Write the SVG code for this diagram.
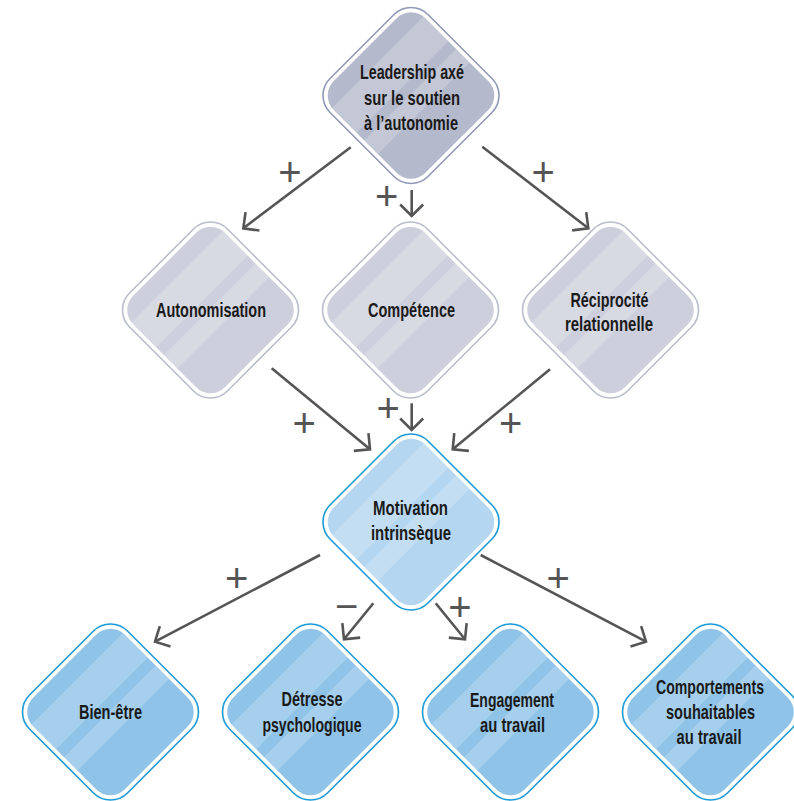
<svg xmlns="http://www.w3.org/2000/svg" width="794" height="801" viewBox="0 0 794 801">
<style>
.ob{fill:#fff;stroke-width:1.6}
.ot{stroke:#8f98b8}.it{fill:#b4b9cc}
.om{stroke:#b9bdcc}.im{fill:#cdd0dc}
.ov{stroke:#1b9ad6}.iv{fill:#b4d6f1}
.obl{stroke:#1b9ad6}.ibl{fill:#8fc4e8}
.st{fill:#fff;opacity:0.2}
.lbl{font-family:"Liberation Sans",Arial,sans-serif;font-weight:bold;font-size:21px;fill:#1a1a1a;text-anchor:middle}
.sg{font-family:"Liberation Sans",Arial,sans-serif;font-size:40px;fill:#555;text-anchor:middle}
.cn line{stroke:#555;stroke-width:2.6;fill:none;marker-end:url(#ah)}
</style>
<defs>
<clipPath id="dc"><rect x="-64.75" y="-64.75" width="129.5" height="129.5" rx="20"/></clipPath>
<marker id="ah" markerUnits="userSpaceOnUse" markerWidth="30" markerHeight="30" refX="0" refY="0" viewBox="-15 -15 30 30" orient="auto" overflow="visible">
<path d="M-11.5,-11.5 L0,0 L-11.5,11.5" fill="none" stroke="#555" stroke-width="2.6" stroke-linejoin="miter"/>
</marker>
</defs>

<g id="connectors" class="cn">
<line x1="350.7" y1="147.3" x2="243.3" y2="228.3"/>
<line x1="411.7" y1="190" x2="411.7" y2="216"/>
<line x1="482.3" y1="146.7" x2="588.3" y2="228.3"/>
<line x1="271.7" y1="368.3" x2="370" y2="449.3"/>
<line x1="411.7" y1="403.3" x2="411.7" y2="430"/>
<line x1="550" y1="369.3" x2="452.7" y2="449.3"/>
<line x1="320" y1="555" x2="155" y2="641.7"/>
<line x1="373.3" y1="603.3" x2="344" y2="639.3"/>
<line x1="435.7" y1="603.3" x2="465" y2="639.3"/>
<line x1="480.7" y1="555" x2="646" y2="641.7"/>
</g>
<g id="signs" class="sg">
<text x="290" y="185.7">+</text>
<text x="386.7" y="210">+</text>
<text x="543.3" y="185.7">+</text>
<text x="304.3" y="437.3">+</text>
<text x="388.3" y="422.3">+</text>
<text x="510.7" y="437.3">+</text>
<text x="236.7" y="591.7">+</text>
<text x="346.7" y="620">−</text>
<text x="460" y="620.7">+</text>
<text x="558.3" y="591.7">+</text>
</g>

<g id="n-leadership">
<g transform="translate(411,95.5) rotate(45)">
<rect class="ob ot" x="-69.25" y="-69.25" width="138.5" height="138.5" rx="24"/>
<rect class="it" x="-64.75" y="-64.75" width="129.5" height="129.5" rx="20"/>
<g class="st" clip-path="url(#dc)"><rect x="-47" y="-80" width="35" height="160"/><rect x="-1" y="-80" width="19" height="160"/></g>
</g>
<text class="lbl" x="412" y="78.5" textLength="104" lengthAdjust="spacingAndGlyphs">Leadership axé</text>
<text class="lbl" x="412" y="104.5" textLength="96" lengthAdjust="spacingAndGlyphs">sur le soutien</text>
<text class="lbl" x="411" y="130" textLength="94" lengthAdjust="spacingAndGlyphs">à l’autonomie</text>
</g>
<g id="n-autonomisation">
<g transform="translate(210.5,310) rotate(45)">
<rect class="ob om" x="-69.25" y="-69.25" width="138.5" height="138.5" rx="24"/>
<rect class="im" x="-64.75" y="-64.75" width="129.5" height="129.5" rx="20"/>
<g class="st" clip-path="url(#dc)"><rect x="-47" y="-80" width="35" height="160"/><rect x="-1" y="-80" width="19" height="160"/></g>
</g>
<text class="lbl" x="211" y="317" textLength="110" lengthAdjust="spacingAndGlyphs">Autonomisation</text>
</g>
<g id="n-competence">
<g transform="translate(410.5,310) rotate(45)">
<rect class="ob om" x="-69.25" y="-69.25" width="138.5" height="138.5" rx="24"/>
<rect class="im" x="-64.75" y="-64.75" width="129.5" height="129.5" rx="20"/>
<g class="st" clip-path="url(#dc)"><rect x="-47" y="-80" width="35" height="160"/><rect x="-1" y="-80" width="19" height="160"/></g>
</g>
<text class="lbl" x="411.5" y="317" textLength="87" lengthAdjust="spacingAndGlyphs">Compétence</text>
</g>
<g id="n-reciprocite">
<g transform="translate(610.5,310) rotate(45)">
<rect class="ob om" x="-69.25" y="-69.25" width="138.5" height="138.5" rx="24"/>
<rect class="im" x="-64.75" y="-64.75" width="129.5" height="129.5" rx="20"/>
<g class="st" clip-path="url(#dc)"><rect x="-47" y="-80" width="35" height="160"/><rect x="-1" y="-80" width="19" height="160"/></g>
</g>
<text class="lbl" x="609.5" y="306.5" textLength="78" lengthAdjust="spacingAndGlyphs">Réciprocité</text>
<text class="lbl" x="609" y="331" textLength="88" lengthAdjust="spacingAndGlyphs">relationnelle</text>
</g>
<g id="n-motivation">
<g transform="translate(411,522) rotate(45)">
<rect class="ob ov" x="-69.25" y="-69.25" width="138.5" height="138.5" rx="24"/>
<rect class="iv" x="-64.75" y="-64.75" width="129.5" height="129.5" rx="20"/>
<g class="st" clip-path="url(#dc)"><rect x="-47" y="-80" width="35" height="160"/><rect x="-1" y="-80" width="19" height="160"/></g>
</g>
<text class="lbl" x="410.5" y="515" textLength="75" lengthAdjust="spacingAndGlyphs">Motivation</text>
<text class="lbl" x="411" y="539.5" textLength="80" lengthAdjust="spacingAndGlyphs">intrinsèque</text>
</g>
<g id="n-bienetre">
<g transform="translate(110.5,712) rotate(45)">
<rect class="ob obl" x="-69.25" y="-69.25" width="138.5" height="138.5" rx="24"/>
<rect class="ibl" x="-64.75" y="-64.75" width="129.5" height="129.5" rx="20"/>
<g class="st" clip-path="url(#dc)"><rect x="-47" y="-80" width="35" height="160"/><rect x="-1" y="-80" width="19" height="160"/></g>
</g>
<text class="lbl" x="110.5" y="718.5" textLength="63" lengthAdjust="spacingAndGlyphs">Bien-être</text>
</g>
<g id="n-detresse">
<g transform="translate(310.5,712) rotate(45)">
<rect class="ob obl" x="-69.25" y="-69.25" width="138.5" height="138.5" rx="24"/>
<rect class="ibl" x="-64.75" y="-64.75" width="129.5" height="129.5" rx="20"/>
<g class="st" clip-path="url(#dc)"><rect x="-47" y="-80" width="35" height="160"/><rect x="-1" y="-80" width="19" height="160"/></g>
</g>
<text class="lbl" x="312" y="706" textLength="61" lengthAdjust="spacingAndGlyphs">Détresse</text>
<text class="lbl" x="312" y="731.5" textLength="99" lengthAdjust="spacingAndGlyphs">psychologique</text>
</g>
<g id="n-engagement">
<g transform="translate(510.5,712) rotate(45)">
<rect class="ob obl" x="-69.25" y="-69.25" width="138.5" height="138.5" rx="24"/>
<rect class="ibl" x="-64.75" y="-64.75" width="129.5" height="129.5" rx="20"/>
<g class="st" clip-path="url(#dc)"><rect x="-47" y="-80" width="35" height="160"/><rect x="-1" y="-80" width="19" height="160"/></g>
</g>
<text class="lbl" x="512" y="706.5" textLength="84" lengthAdjust="spacingAndGlyphs">Engagement</text>
<text class="lbl" x="512.5" y="731.5" textLength="65" lengthAdjust="spacingAndGlyphs">au travail</text>
</g>
<g id="n-comportements">
<g transform="translate(710.5,712) rotate(45)">
<rect class="ob obl" x="-69.25" y="-69.25" width="138.5" height="138.5" rx="24"/>
<rect class="ibl" x="-64.75" y="-64.75" width="129.5" height="129.5" rx="20"/>
<g class="st" clip-path="url(#dc)"><rect x="-47" y="-80" width="35" height="160"/><rect x="-1" y="-80" width="19" height="160"/></g>
</g>
<text class="lbl" x="710" y="694" textLength="108" lengthAdjust="spacingAndGlyphs">Comportements</text>
<text class="lbl" x="710.5" y="718.5" textLength="89" lengthAdjust="spacingAndGlyphs">souhaitables</text>
<text class="lbl" x="709" y="743.5" textLength="65" lengthAdjust="spacingAndGlyphs">au travail</text>
</g>
</svg>
